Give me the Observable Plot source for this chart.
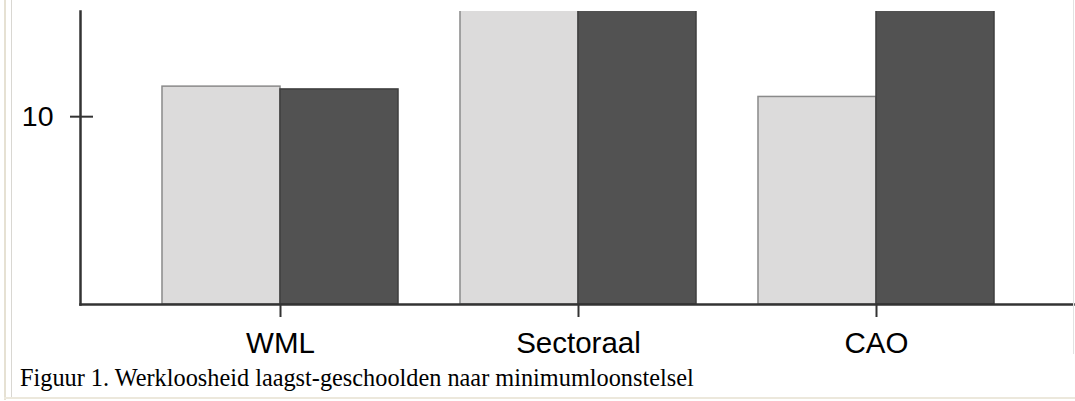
<!DOCTYPE html>
<html><head><meta charset="utf-8">
<script src="https://cdn.jsdelivr.net/npm/d3@7"></script>
<script src="https://cdn.jsdelivr.net/npm/@observablehq/plot@0.6"></script>
<style>
body{margin:0;background:#fff;}
#wrap{position:relative;width:1075px;height:401px;overflow:hidden;background:#fff;}
#chart{position:absolute;left:0;top:0;}
.caption{position:absolute;left:20px;top:366px;font-family:"Liberation Serif","Times New Roman",serif;font-size:24.3px;line-height:1;color:#000;white-space:nowrap;}
.b{position:absolute;}
</style></head><body>
<div id="wrap">
  <div id="chart"></div>
  <div class="caption">Figuur 1. Werkloosheid laagst-geschoolden naar minimumloonstelsel</div>
  <div class="b" style="left:4px;top:0;width:2px;height:400px;background:#e6e1d3"></div>
  <div class="b" style="left:11px;top:0;width:1px;height:397px;background:#d9d7d2"></div>
  <div class="b" style="left:4px;top:397px;width:1071px;height:2px;background:#ece8dc"></div>
  <div class="b" style="left:1073px;top:0;width:1px;height:354px;background:#e2e2e2"></div>
</div>
<script>
const categories = ["WML", "Sectoraal", "CAO"];
const lightValues = [11.6, 17.5, 11.05];
const darkValues = [11.45, 17.5, 17.0];
const yTicks = [10];

const light = categories.map((c, i) => ({cat: c, value: lightValues[i]}));
const dark = categories.map((c, i) => ({cat: c, value: darkValues[i]}));

const chart = Plot.plot({
  width: 1075,
  height: 360,
  marginLeft: 80,
  marginRight: 2,
  marginTop: 11,
  marginBottom: 56,
  style: {fontFamily: "'Liberation Sans', Arial, Helvetica, sans-serif", background: "transparent", color: "#000"},
  x: {domain: categories, range: [131, 1025], paddingInner: 0.208, paddingOuter: 0.104, round: false, label: null},
  y: {domain: [0, 15.6], label: null},
  marks: [
    Plot.barY(light, {x: "cat", y: "value", fill: "#dcdbdb", stroke: "#8a8a8a", strokeWidth: 1.5, insetRight: 118, clip: true}),
    Plot.barY(dark, {x: "cat", y: "value", fill: "#525252", stroke: "#3e3e3e", strokeWidth: 1.5, insetLeft: 118, clip: true}),
    Plot.frame({anchor: "left", stroke: "#333", strokeWidth: 2.5}),
    Plot.frame({anchor: "bottom", stroke: "#333", strokeWidth: 2.5}),
    Plot.axisX({tickSize: 13, tickPadding: 15, fontSize: 29.5, stroke: "#333", strokeWidth: 2}),
    Plot.axisY({ticks: yTicks, tickSize: 0, tickPadding: 27, fontSize: 28.5}),
    Plot.axisY({ticks: yTicks, tickSize: 23, dx: 13, stroke: "#333", strokeWidth: 2, tickFormat: () => ""})
  ]
});
document.getElementById("chart").appendChild(chart);
</script>
</body></html>
